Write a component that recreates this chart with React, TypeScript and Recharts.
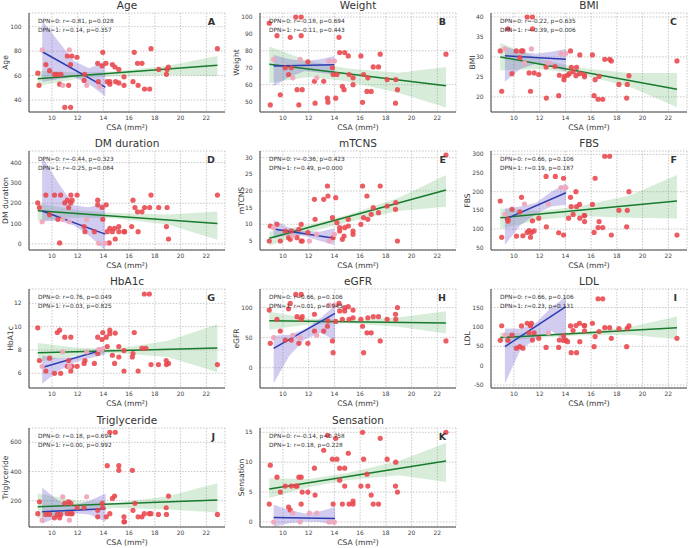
import { ComposedChart, XAxis, YAxis, CartesianGrid, Scatter, Line, Area } from "recharts";

const FONT = '"DejaVu Sans", "Liberation Sans", sans-serif';
const RED = "#e8474c";
const PINK = "#f0a6ba";
const GREEN = "#177a2c";
const GREEN_FILL = "#4caf50";
const BLUE = "#2b3cae";
const BLUE_FILL = "#6a5acd";
const AXIS = "#444";
const GRID = "#c8c8c8";

const COL_LEFT = [29, 260, 491];
const ROW_TOP = [13, 151, 289, 428];
const PLOT_W = 196;
const PLOT_H = 99;
const Y_AXIS_W = 30;
const X_AXIS_H = 24;

const CSA_DOMAIN: [number, number] = [8.22, 23.45];
const CSA_TICKS = [10, 12, 14, 16, 18, 20, 22];

// ---- Age ----
const AGE_DPN1 = [[8.9,62],[9.0,52],[9.53,69],[9.82,64],[10.2,61],[10.4,61],[10.6,53],[10.7,61],[11.0,34],[11.2,76],[11.3,52],[11.45,69],[11.45,34],[11.55,76],[11.95,75],[12.5,56],[12.55,61],[13.56,70],[13.6,55],[13.9,68],[13.95,79],[14.2,70],[14.3,55],[14.5,55],[14.5,53],[14.7,69],[14.9,67],[14.95,55],[15.2,65],[15.2,54],[15.6,59],[15.6,52],[16.3,55],[16.4,79],[16.65,70],[16.7,52],[17.0,70],[17.2,49],[17.6,49],[17.7,82],[18.3,65],[18.9,61],[18.95,65],[19.05,67],[22.86,82]];
const AGE_DPN0 = [[9.25,81],[10.85,52],[11.35,81],[12.7,52],[13.7,51]];
const AGE_LINE1 = [[8.9,57.5],[22.86,68.5]];
const AGE_LINE0 = [[9.25,79.5],[14.15,50.5]];
const AGE_BAND1 = [[8.9,51.5,64],[12,57.5,62.5],[15,59.5,63.5],[19,60.5,68],[22.86,59.5,76]];
const AGE_BAND0 = [[9.25,55,105],[10.5,57,88],[11.7,59,72],[12.9,53,66],[14.15,43,72]];

// ---- Weight ----
const WEIGHT_DPN1 = [[8.94,96.4],[9.02,48],[9.54,89],[9.8,54],[10.18,70],[10.44,66],[10.57,88],[10.65,70],[11.0,100],[11.1,57],[11.24,48],[11.42,100],[11.42,89],[11.5,57],[11.94,73.5],[12.45,62],[12.5,49],[13.17,62],[13.46,52],[13.5,49.6],[13.85,70],[13.9,66],[14.1,52],[14.2,66],[14.36,88],[14.41,79],[14.62,59],[14.75,57],[14.8,79],[15.08,77],[15.14,66],[15.45,60],[15.45,64],[16.06,77],[16.19,49.5],[16.27,66],[16.53,56],[16.6,64],[16.86,56],[17.02,70.5],[17.43,70.5],[17.56,78],[18.1,63],[18.75,49],[18.77,63],[18.9,57],[22.67,78]];
const WEIGHT_DPN0 = [[9.28,75],[10.77,64],[11.34,75],[12.63,64],[13.59,74],[14.0,74]];
const WEIGHT_LINE1 = [[8.94,72],[22.67,59.3]];
const WEIGHT_LINE0 = [[9.28,71],[14.0,71.8]];
const WEIGHT_BAND1 = [[8.94,61,82.5],[12,64.5,74],[15,62,69.5],[19,55,67],[22.67,46.5,70.5]];
const WEIGHT_BAND0 = [[9.28,59,77.5],[10.5,64.5,75],[11.7,68,74],[12.9,67,75],[14.0,66,77]];

// ---- BMI ----
const BMI_DPN1 = [[8.94,31.5],[9.05,21.4],[9.54,37],[9.85,25.8],[10.18,31.5],[10.46,29.8],[10.59,31.5],[10.7,31.5],[11.03,40],[11.18,26],[11.29,21.4],[11.44,40],[11.44,37],[11.57,26],[11.93,25.6],[12.5,27.5],[12.52,19.7],[13.19,27.6],[13.48,20.3],[13.53,25.4],[13.89,24.3],[13.91,25.1],[14.17,25.4],[14.3,25.8],[14.4,31.5],[14.46,27.4],[14.6,26.3],[14.82,25.3],[14.87,27.4],[15.1,25.8],[15.12,30.5],[15.46,25.6],[15.49,25],[16.1,30.5],[16.23,20.3],[16.31,24.3],[16.54,19.4],[16.62,25.1],[16.9,19.4],[17.06,29.4],[17.44,29.4],[17.57,29],[18.16,23.1],[18.76,19.7],[18.81,23.1],[18.94,25.3],[22.67,29]];
const BMI_DPN0 = [[9.3,32],[10.82,28.5],[11.36,32],[12.68,28.5],[13.66,30.9],[14.04,30.9]];
const BMI_LINE1 = [[8.94,30],[22.67,21.9]];
const BMI_LINE0 = [[9.3,30.3],[14.04,29.4]];
const BMI_BAND1 = [[8.94,26.6,33.5],[12,27,29.5],[15,25.7,27.3],[19,22.5,26],[22.67,17.4,26]];
const BMI_BAND0 = [[9.3,23.8,32.6],[10.5,27,31.3],[11.7,28.3,30.8],[12.9,27.5,31.3],[14.04,26.4,32]];

// ---- DM duration ----
const DM_DPN1 = [[8.9,202],[9.03,179],[9.53,240],[9.82,144],[10.2,240],[10.47,121],[10.6,5],[10.68,240],[11.0,202],[11.2,215],[11.3,179],[11.47,202],[11.47,240],[11.57,215],[11.96,240],[12.5,85],[12.57,60],[13.3,60],[13.56,215],[13.56,192],[13.9,179],[13.95,121],[14.22,192],[14.3,60],[14.45,5],[14.5,77],[14.7,60],[14.87,77],[14.92,24],[15.2,85],[15.2,60],[15.6,60],[15.65,60],[16.2,85],[16.3,215],[16.45,179],[16.65,158],[16.7,60],[17.0,158],[17.2,179],[17.6,179],[17.7,240],[18.3,179],[18.9,85],[18.95,179],[19.06,24],[22.86,240]];
const DM_DPN0 = [[9.24,109],[10.84,121],[11.36,109],[12.7,121],[13.64,3],[14.14,3]];
const DM_LINE1 = [[8.9,163],[22.86,100]];
const DM_LINE0 = [[9.24,162],[14.14,48]];
const DM_BAND1 = [[8.9,113,200],[12,130,165],[15,125,152],[19,95,145],[22.86,20,160]];
const DM_BAND0 = [[9.24,110,430],[10.5,115,300],[11.7,90,190],[12.8,45,180],[14.14,-30,200]];

// ---- mTCNS ----
const MTCNS_DPN1 = [[8.94,5],[9.02,9.5],[9.54,10],[9.8,5],[10.18,8],[10.44,6],[10.57,5.5],[10.65,8],[11.1,6],[11.24,8.5],[11.42,10],[11.42,5],[11.5,5],[11.94,7.5],[12.45,17.5],[12.5,11.5],[13.17,17.5],[13.46,21.5],[13.5,18.5],[13.85,12],[13.9,6],[14.1,18],[14.2,10.5],[14.41,9],[14.41,8],[14.62,5.5],[14.75,6.5],[14.8,9],[15.08,9.5],[15.08,11.5],[15.45,8],[15.45,7],[16.06,10],[16.19,21.5],[16.27,12],[16.53,18.5],[16.6,11.5],[16.86,13],[17.02,15],[17.43,13.5],[17.56,21.5],[18.1,15.5],[18.75,14.5],[18.77,16.5],[18.9,5],[22.67,30.8]];
const MTCNS_DPN0 = [[9.28,9],[10.77,6.5],[12.06,5],[12.63,7],[13.59,5],[14.0,7]];
const MTCNS_LINE1 = [[8.94,5.8],[22.67,20.3]];
const MTCNS_LINE0 = [[9.28,8.6],[14.0,5.8]];
const MTCNS_BAND1 = [[8.94,3.6,7.8],[12,7.6,9.8],[15,10.6,12.8],[19,14,18],[22.67,15.3,24.8]];
const MTCNS_BAND0 = [[9.28,5.8,11.3],[10.5,6.8,9],[11.7,6.5,8],[12.9,5,7.8],[14.0,3.8,8.8]];

// ---- FBS ----
const FBS_DPN1 = [[8.94,175],[9.05,78],[9.54,121],[9.54,126],[9.85,153],[10.2,81],[10.46,146],[10.59,185],[10.7,82],[11.03,91],[11.18,96],[11.29,78],[11.36,91],[11.44,122],[11.57,95],[11.93,129],[12.5,241],[12.52,106],[13.22,241],[13.48,90],[13.86,236],[13.86,84],[14.25,129],[14.4,185],[14.45,160],[14.6,139],[14.82,200],[14.87,160],[15.1,166],[15.12,129],[15.46,136],[15.49,120],[15.5,136],[16.1,166],[16.23,91],[16.31,236],[16.54,104],[16.62,120],[16.9,104],[17.06,295],[17.44,295],[17.57,84],[18.16,150],[18.76,106],[18.81,150],[18.94,200],[22.67,84]];
const FBS_DPN0 = [[9.3,139],[10.82,167],[12.68,167],[13.66,211],[14.04,211]];
const FBS_LINE1 = [[8.94,130],[22.67,175]];
const FBS_LINE0 = [[9.3,126],[14.04,197]];
const FBS_BAND1 = [[8.94,100,155],[12,125,148],[15,135,160],[19,130,190],[22.67,128,245]];
const FBS_BAND0 = [[9.3,57,155],[10.5,110,160],[11.7,140,170],[12.9,160,200],[14.04,165,222]];

// ---- HbA1c ----
const HBA1C_DPN1 = [[8.9,9.9],[9.03,7.1],[9.53,6.2],[9.82,7.3],[10.2,6.0],[10.42,9.5],[10.6,9.7],[10.68,6.0],[11.0,9.1],[11.2,6.6],[11.3,7.1],[11.47,9.1],[11.47,6.2],[11.57,6.6],[11.96,6.6],[12.5,6.85],[12.57,7.1],[13.3,6.85],[13.56,9.1],[13.56,7.7],[13.9,8.9],[13.95,9.5],[14.22,9.1],[14.3,8.3],[14.5,9.7],[14.5,9.4],[14.7,7.55],[14.87,6.85],[14.92,9.45],[15.2,8.3],[15.2,7.4],[15.6,7.95],[15.6,6.2],[16.25,7.4],[16.3,7.7],[16.4,9.5],[16.7,6.2],[17.0,8.15],[17.18,12.8],[17.57,12.8],[17.3,8.15],[17.7,6.75],[18.28,6.75],[18.88,7.1],[18.9,6.75],[19.06,6.85],[22.86,6.75]];
const HBA1C_DPN0 = [[9.24,6.6],[10.84,7.85],[11.36,6.6],[12.7,7.85],[13.64,8.05],[13.9,8.05]];
const HBA1C_LINE1 = [[8.9,7.77],[22.86,8.18]];
const HBA1C_LINE0 = [[9.24,6.5],[14.1,8.05]];
const HBA1C_BAND1 = [[8.9,7.0,8.6],[12,7.5,8.2],[15,7.75,8.1],[19,7.4,8.8],[22.86,6.1,10.2]];
const HBA1C_BAND0 = [[9.24,5.1,7.5],[10.5,6.2,7.3],[11.7,6.9,7.4],[12.9,7.3,7.8],[14.1,7.6,8.4]];

// ---- eGFR ----
const EGFR_DPN1 = [[8.94,96],[9.02,40.5],[9.54,80.5],[9.8,61],[10.18,46],[10.44,98],[10.57,107],[10.65,46],[11.0,122],[11.1,85],[11.24,40.5],[11.42,122],[11.42,80.5],[11.5,85],[11.94,40.5],[12.45,89],[12.45,61],[13.17,61],[13.46,69],[13.5,78],[13.85,44.5],[13.9,25],[14.1,77],[14.36,107],[14.41,94.5],[14.62,80.5],[14.8,94.5],[14.8,100],[15.08,101.5],[15.14,80.5],[15.45,96],[15.45,83],[16.06,80.5],[16.19,69],[16.27,25],[16.53,58],[16.6,83],[16.86,58],[17.02,85],[17.43,85],[17.56,44.5],[18.1,80.5],[18.75,89],[18.77,80.5],[18.9,100],[22.67,44.5]];
const EGFR_DPN0 = [[9.28,50],[10.77,54],[11.34,50],[12.63,54],[13.59,104],[14.0,104]];
const EGFR_LINE1 = [[8.94,78],[22.67,74.5]];
const EGFR_LINE0 = [[9.28,32],[14.05,90.5]];
const EGFR_BAND1 = [[8.94,63,93],[12,72,82],[15,74,79],[19,68,84],[22.67,57,94]];
const EGFR_BAND0 = [[9.28,-26,53],[10.5,20,55],[11.7,47,64],[12.9,58,82],[14.05,46,104]];

// ---- LDL ----
const LDL_DPN1 = [[8.94,65.5],[9.05,103],[9.54,65.5],[9.85,79],[10.2,45],[10.46,49],[10.59,102.5],[10.7,45],[11.03,109.5],[11.18,85],[11.29,103],[11.36,109.5],[11.44,66],[11.57,85],[11.93,70.5],[12.5,47],[13.48,47],[13.53,66],[13.86,77],[13.86,65],[14.04,66],[14.17,62],[14.4,102.5],[14.45,33.6],[14.6,90.5],[14.82,103.5],[14.87,33.6],[15.1,109.5],[15.12,62],[15.46,103.5],[15.49,103.5],[15.49,90],[16.1,109.5],[16.23,49],[16.31,75],[16.54,172.5],[16.62,88],[16.9,172.5],[17.06,98],[17.44,98],[17.57,70.5],[18.16,95.5],[18.76,49],[18.81,96.5],[18.94,102.5],[22.67,70.5]];
const LDL_DPN0 = [[9.3,79],[12.68,85]];
const LDL_LINE1 = [[8.94,72.5],[22.67,98]];
const LDL_LINE0 = [[9.3,49],[14.04,152.5]];
const LDL_BAND1 = [[8.94,62,85],[12,72,82],[15,78,86],[19,80,100],[22.67,68,127]];
const LDL_BAND0 = [[9.3,-46,96],[10.5,40,95],[11.7,70,110],[12.9,90,150],[14.04,62,178]];

// ---- Triglyceride ----
const TG_DPN1 = [[8.9,111],[9.03,193],[9.53,106],[9.82,106],[10.2,83],[10.42,106],[10.6,83],[10.68,106],[11.0,182],[11.2,111],[11.3,193],[11.47,182],[11.47,111],[11.57,111],[11.96,152],[12.5,152],[13.56,134],[13.56,90],[13.9,182],[13.95,152],[14.22,90],[14.3,440],[14.5,111],[14.5,669],[14.7,216],[14.87,232],[14.92,669],[15.2,440],[15.2,408],[15.6,90],[15.6,56],[15.64,56],[16.25,408],[16.3,134],[16.45,182],[16.7,90],[17.0,90],[17.18,111],[17.57,111],[17.7,111],[18.28,106],[18.88,152],[18.9,106],[19.06,232],[22.86,106]];
const TG_DPN0 = [[9.24,67],[10.84,227],[11.36,67],[12.7,227]];
const TG_LINE1 = [[8.9,159],[22.86,205]];
const TG_LINE0 = [[9.24,125],[14.17,145]];
const TG_BAND1 = [[8.9,80,250],[12,130,200],[15,150,185],[19,140,230],[22.86,120,320]];
const TG_BAND0 = [[9.24,42,290],[10.5,90,200],[11.7,115,165],[12.9,105,200],[14.17,56,250]];

// ---- Sensation ----
const SENS_DPN1 = [[8.94,3],[9.02,9.5],[9.54,7.5],[9.8,5],[10.18,6],[10.44,2.5],[10.57,2],[10.65,6],[11.0,6],[11.1,6],[11.24,7.5],[11.42,7.5],[11.42,3],[11.5,5],[11.94,5],[12.45,9],[12.5,4.5],[13.17,12],[13.46,14.5],[13.85,10.5],[13.9,3],[14.1,14],[14.2,10.5],[14.41,9],[14.41,7],[14.62,3],[14.8,6],[14.8,9],[15.08,11.5],[15.14,3],[15.45,3.5],[15.45,3],[16.06,6],[16.19,15],[16.27,10.5],[16.53,8],[16.6,6],[16.86,4.5],[17.02,3],[17.43,3],[17.56,14],[18.1,10.5],[18.75,6],[18.77,10],[18.9,5],[22.67,15]];
const SENS_DPN0 = [[9.28,0],[10.77,1.5],[11.34,0],[12.06,1.5],[12.63,1.5],[13.59,0],[14.0,0]];
const SENS_LINE1 = [[8.94,5.5],[22.67,10.2]];
const SENS_LINE0 = [[9.28,0.75],[14.05,0.6]];
const SENS_BAND1 = [[8.94,4.0,7.3],[12,5.8,7.2],[15,7.0,8.2],[19,7.8,10.2],[22.67,6.7,13.2]];
const SENS_BAND0 = [[9.28,-0.8,2.9],[10.5,-0.2,2.0],[11.7,0.1,1.4],[12.9,0,1.8],[14.05,-0.5,2.5]];

interface PanelSpec {
  title: string;
  letter: string;
  col: number;
  row: number;
  domain: [number, number];
  ticks: number[];
  labelOffset: number;
  stats: string[];
  dpn1: number[][];
  dpn0: number[][];
  line1: number[][];
  line0: number[][];
  band1: number[][];
  band0: number[][];
}

const PANELS: PanelSpec[] = [
  { title: "Age", letter: "A", col: 0, row: 0, domain: [30.2, 111.2], ticks: [40, 60, 80, 100], labelOffset: 6,
    stats: ["DPN=0: r=-0.81, p=0.028", "DPN=1: r=0.14, p=0.357"],
    dpn1: AGE_DPN1, dpn0: AGE_DPN0, line1: AGE_LINE1, line0: AGE_LINE0, band1: AGE_BAND1, band0: AGE_BAND0 },
  { title: "Weight", letter: "B", col: 1, row: 0, domain: [43.8, 102.4], ticks: [50, 60, 70, 80, 90, 100], labelOffset: 6,
    stats: ["DPN=0: r=-0.18, p=0.694", "DPN=1: r=-0.11, p=0.443"],
    dpn1: WEIGHT_DPN1, dpn0: WEIGHT_DPN0, line1: WEIGHT_LINE1, line0: WEIGHT_LINE0, band1: WEIGHT_BAND1, band0: WEIGHT_BAND0 },
  { title: "BMI", letter: "C", col: 2, row: 0, domain: [16.2, 41], ticks: [20, 25, 30, 35, 40], labelOffset: 11,
    stats: ["DPN=0: r=-0.22, p=0.635", "DPN=1: r=-0.39, p=0.006"],
    dpn1: BMI_DPN1, dpn0: BMI_DPN0, line1: BMI_LINE1, line0: BMI_LINE0, band1: BMI_BAND1, band0: BMI_BAND0 },
  { title: "DM duration", letter: "D", col: 0, row: 1, domain: [-30, 457], ticks: [0, 100, 200, 300, 400], labelOffset: 6,
    stats: ["DPN=0: r=-0.44, p=0.323", "DPN=1: r=-0.25, p=0.084"],
    dpn1: DM_DPN1, dpn0: DM_DPN0, line1: DM_LINE1, line0: DM_LINE0, band1: DM_BAND1, band0: DM_BAND0 },
  { title: "mTCNS", letter: "E", col: 1, row: 1, domain: [2.3, 32], ticks: [5, 10, 15, 20, 25, 30], labelOffset: 11,
    stats: ["DPN=0: r=-0.36, p=0.423", "DPN=1: r=0.49, p=0.000"],
    dpn1: MTCNS_DPN1, dpn0: MTCNS_DPN0, line1: MTCNS_LINE1, line0: MTCNS_LINE0, band1: MTCNS_BAND1, band0: MTCNS_BAND0 },
  { title: "FBS", letter: "F", col: 2, row: 1, domain: [43.8, 309], ticks: [50, 100, 150, 200, 250, 300], labelOffset: 6,
    stats: ["DPN=0: r=0.66, p=0.106", "DPN=1: r=0.19, p=0.187"],
    dpn1: FBS_DPN1, dpn0: FBS_DPN0, line1: FBS_LINE1, line0: FBS_LINE0, band1: FBS_BAND1, band0: FBS_BAND0 },
  { title: "HbA1c", letter: "G", col: 0, row: 2, domain: [4.74, 13.23], ticks: [6, 8, 10, 12], labelOffset: 11,
    stats: ["DPN=0: r=0.76, p=0.049", "DPN=1: r=0.03, p=0.825"],
    dpn1: HBA1C_DPN1, dpn0: HBA1C_DPN0, line1: HBA1C_LINE1, line0: HBA1C_LINE0, band1: HBA1C_BAND1, band0: HBA1C_BAND0 },
  { title: "eGFR", letter: "H", col: 1, row: 2, domain: [-33.8, 131], ticks: [0, 50, 100], labelOffset: 6,
    stats: ["DPN=0: r=0.66, p=0.106", "DPN=1: r=0.01, p=0.943"],
    dpn1: EGFR_DPN1, dpn0: EGFR_DPN0, line1: EGFR_LINE1, line0: EGFR_LINE0, band1: EGFR_BAND1, band0: EGFR_BAND0 },
  { title: "LDL", letter: "I", col: 2, row: 2, domain: [-57.8, 198], ticks: [-50, 0, 50, 100, 150], labelOffset: 6,
    stats: ["DPN=0: r=0.66, p=0.106", "DPN=1: r=0.23, p=0.131"],
    dpn1: LDL_DPN1, dpn0: LDL_DPN0, line1: LDL_LINE1, line0: LDL_LINE0, band1: LDL_BAND1, band0: LDL_BAND0 },
  { title: "Triglyceride", letter: "J", col: 0, row: 3, domain: [20, 698], ticks: [200, 400, 600], labelOffset: 6,
    stats: ["DPN=0: r=0.18, p=0.694", "DPN=1: r=0.00, p=0.992"],
    dpn1: TG_DPN1, dpn0: TG_DPN0, line1: TG_LINE1, line0: TG_LINE0, band1: TG_BAND1, band0: TG_BAND0 },
  { title: "Sensation", letter: "K", col: 1, row: 3, domain: [-0.84, 15.72], ticks: [0, 5, 10, 15], labelOffset: 11,
    stats: ["DPN=0: r=-0.14, p=0.758", "DPN=1: r=0.18, p=0.228"],
    dpn1: SENS_DPN1, dpn0: SENS_DPN0, line1: SENS_LINE1, line0: SENS_LINE0, band1: SENS_BAND1, band0: SENS_BAND0 },
];

const Y_LABELS: Record<string, string> = { "DM duration": "DM duration" };

const toPoints = (pairs: number[][]) => pairs.map(([x, y]) => ({ x, y }));
const toBand = (rows: number[][]) => rows.map(([x, lo, hi]) => ({ x, band: [lo, hi] }));

function dot(color: string, opacity: number) {
  return (p: any) => <circle cx={p.cx} cy={p.cy} r={2.6} fill={color} fillOpacity={opacity} />;
}

function Panel({ spec }: { spec: PanelSpec }) {
  const left = COL_LEFT[spec.col];
  const top = ROW_TOP[spec.row];
  const yLabel = Y_LABELS[spec.title] ?? spec.title;
  return (
    <>
      <div
        style={{
          position: "absolute",
          left,
          top: top - 13,
          width: PLOT_W,
          textAlign: "center",
          fontSize: 10.5,
          lineHeight: "11px",
          color: "#333",
        }}
      >
        {spec.title}
      </div>
      <div style={{ position: "absolute", left: left - Y_AXIS_W, top: top - 2 }}>
        <ComposedChart
          width={Y_AXIS_W + PLOT_W + 4}
          height={2 + PLOT_H + X_AXIS_H}
          margin={{ top: 2, right: 4, bottom: 0, left: 0 }}
        >
          <CartesianGrid stroke={GRID} strokeDasharray="1.5 1.5" />
          <XAxis
            type="number"
            dataKey="x"
            domain={CSA_DOMAIN}
            ticks={CSA_TICKS}
            allowDataOverflow
            height={X_AXIS_H}
            tickSize={3}
            tickMargin={0.3}
            tickLine={false}
            axisLine={{ stroke: AXIS }}
            tick={{ fill: AXIS, fontSize: 6, fontFamily: FONT }}
            label={{ value: "CSA (mm²)", position: "insideBottom", offset: 6, fill: "#333", fontSize: 7.6, fontFamily: FONT }}
          />
          <YAxis
            type="number"
            domain={spec.domain}
            ticks={spec.ticks}
            allowDataOverflow
            width={Y_AXIS_W}
            tickSize={4}
            tickMargin={3.3}
            tickLine={false}
            axisLine={{ stroke: AXIS }}
            tick={{ fill: AXIS, fontSize: 6, fontFamily: FONT }}
            label={{
              value: yLabel,
              angle: -90,
              position: "insideLeft",
              offset: spec.labelOffset,
              fill: "#333",
              fontSize: 7.6,
              fontFamily: FONT,
              style: { textAnchor: "middle" },
            }}
          />
          <Area
            data={toBand(spec.band1)}
            dataKey="band"
            type="linear"
            stroke="none"
            fill={GREEN_FILL}
            fillOpacity={0.22}
            isAnimationActive={false}
          />
          <Area
            data={toBand(spec.band0)}
            dataKey="band"
            type="linear"
            stroke="none"
            fill={BLUE_FILL}
            fillOpacity={0.3}
            isAnimationActive={false}
          />
          <Scatter data={toPoints(spec.dpn1)} dataKey="y" shape={dot(RED, 0.88)} isAnimationActive={false} />
          <Scatter data={toPoints(spec.dpn0)} dataKey="y" shape={dot(PINK, 0.95)} isAnimationActive={false} />
          <Line
            data={toPoints(spec.line1)}
            dataKey="y"
            type="linear"
            stroke={GREEN}
            strokeWidth={1.5}
            dot={false}
            isAnimationActive={false}
          />
          <Line
            data={toPoints(spec.line0)}
            dataKey="y"
            type="linear"
            stroke={BLUE}
            strokeWidth={1.5}
            dot={false}
            isAnimationActive={false}
          />
        </ComposedChart>
      </div>
      <div
        style={{
          position: "absolute",
          left: left + 9,
          top: top + 3.8,
          fontSize: 5.8,
          lineHeight: "9.3px",
          color: "#333",
          whiteSpace: "nowrap",
        }}
      >
        {spec.stats.map((s) => (
          <div key={s}>{s}</div>
        ))}
      </div>
      <div
        style={{
          position: "absolute",
          left,
          top: top + 4.4,
          width: PLOT_W - 10,
          textAlign: "right",
          fontSize: 9.5,
          lineHeight: "10px",
          fontWeight: "bold",
          color: "#333",
        }}
      >
        {spec.letter}
      </div>
    </>
  );
}

export default function App() {
  return (
    <div
      style={{
        position: "absolute",
        left: 0,
        top: 0,
        width: 689,
        height: 548,
        background: "#fff",
        fontFamily: FONT,
        overflow: "hidden",
      }}
    >
      {PANELS.map((p) => (
        <Panel key={p.letter} spec={p} />
      ))}
    </div>
  );
}
